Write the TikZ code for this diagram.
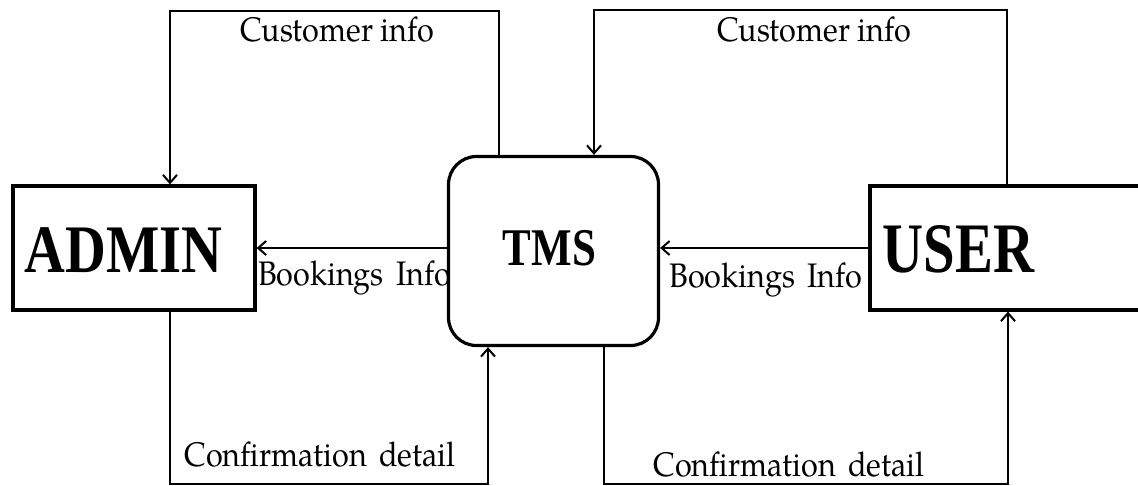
\documentclass[tikz,border=0pt]{standalone}
\usepackage{fontspec}
\setmainfont{texgyrepagella-regular.otf}
\newfontfamily\bigserif{Liberation Serif}
\usetikzlibrary{arrows.meta}
\newcommand{\lbltext}[1]{\scalebox{0.9}[1]{#1}}
\tikzset{
  flow/.style={line width=2pt, -{Straight Barb[length=8pt,width=14pt,line width=2pt]}},
  entity/.style={draw, line width=3.2pt, fill=white, rectangle, inner sep=0pt},
  process/.style={draw, line width=3.2pt, fill=white, rectangle, rounded corners=28pt, inner sep=0pt},
  lbl/.style={inner sep=0pt, font=\fontsize{34}{38}\selectfont},
  big/.style={inner sep=0pt, anchor=base},
}
\begin{document}
\begin{tikzpicture}[x=1pt,y=-1pt]
\useasboundingbox (0,0) rectangle (1138,485);
% labels (drawn first so boxes can cover them)
\node[lbl, anchor=base] (lci) at (337,41) {\lbltext{Customer info}};
\node[lbl, anchor=base] (rci) at (814,41) {\lbltext{Customer info}};
\node[lbl, anchor=base west] (lbi) at (258,285) {\lbltext{Bookings\hspace{0.4em}Info}};
\node[lbl, anchor=base east] (rbi) at (862,287) {\lbltext{Bookings\hspace{0.4em}Info}};
\node[lbl, anchor=base] (lcd) at (320,466) {\lbltext{Confirmation\hspace{0.4em}detail}};
\node[lbl, anchor=base] (rcd) at (789,476) {\lbltext{Confirmation\hspace{0.4em}detail}};
% boxes
\node[entity, minimum width=242pt, minimum height=124pt] (admin) at (134,248) {};
\node[process, minimum width=210pt, minimum height=189pt] (tms) at (553.5,251) {};
\node[entity, minimum width=290pt, minimum height=124pt] (user) at (1015,248) {};
% box texts
\node[big] (admintxt) at (123.5,272) {\bigserif\bfseries\fontsize{68}{70}\selectfont\scalebox{0.83}[1]{ADMIN}};
\node[big] (tmstxt) at (549.5,265) {\bigserif\bfseries\fontsize{53}{56}\selectfont\scalebox{0.81}[1]{TMS}};
\node[big] (usertxt) at (958.5,272) {\bigserif\bfseries\fontsize{71}{74}\selectfont\scalebox{0.8}[1]{USER}};
% connectors
\draw[flow] ([xshift=-54.5pt]tms.north) -- ++(0,-144) -| ([xshift=36pt]admin.north);
\draw[flow] (tms.west |- admin.east) -- (admin.east);
\draw[flow] ([xshift=-8pt]user.north) -- ++(0,-174) -| ([xshift=40.5pt]tms.north);
\draw[flow] (user.west) -- (tms.east |- user.west);
\draw[flow] ([xshift=36pt]admin.south) -- ++(0,172) -| ([xshift=-65.5pt]tms.south);
\draw[flow] ([xshift=50.5pt]tms.south) -- ++(0,137) -| ([xshift=-7pt]user.south);
\end{tikzpicture}
\end{document}
